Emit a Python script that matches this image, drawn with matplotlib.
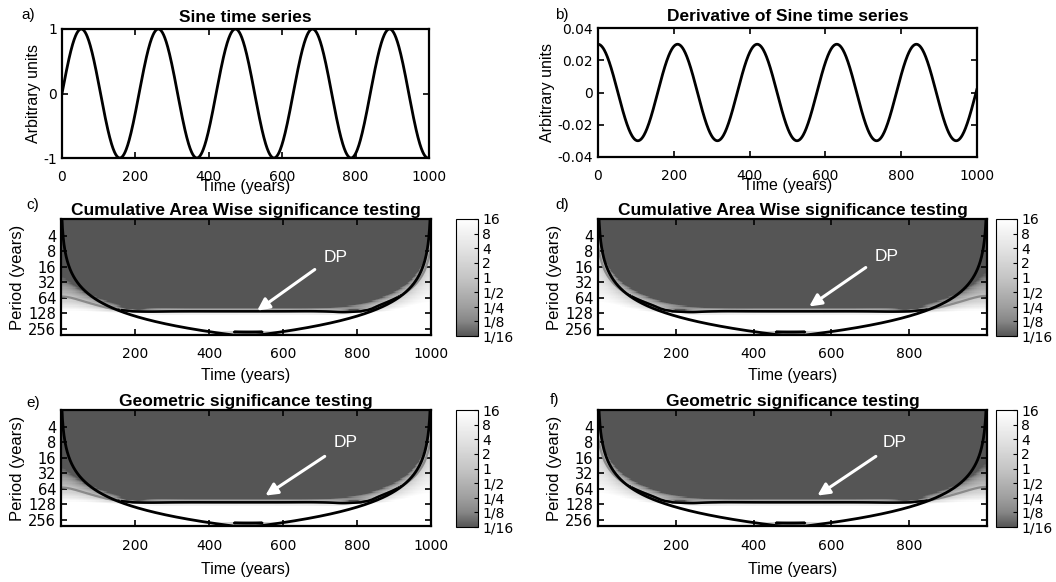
import numpy as np
import matplotlib
matplotlib.use("Agg")
import matplotlib.pyplot as plt
from matplotlib.colors import LinearSegmentedColormap, LogNorm
from matplotlib.ticker import NullLocator

plt.rcParams["font.family"] = ["Liberation Sans", "DejaVu Sans"]
plt.rcParams["axes.unicode_minus"] = False
plt.rcParams["xtick.direction"] = "in"
plt.rcParams["ytick.direction"] = "in"
plt.rcParams["xtick.top"] = True
plt.rcParams["ytick.right"] = True
plt.rcParams["axes.linewidth"] = 1.6
plt.rcParams["xtick.major.width"] = 1.2
plt.rcParams["ytick.major.width"] = 1.2
plt.rcParams["xtick.major.size"] = 4
plt.rcParams["ytick.major.size"] = 4

# ---- time series ----
years = np.arange(0, 1001)                 # annual samples
sine_period = 210.0                        # years per cycle
sine_amplitude = 1.0
sine_series = sine_amplitude * np.sin(2 * np.pi * years / sine_period)
derivative_series = np.diff(sine_series)   # change per year
derivative_years = years[:-1] + 0.5

# ---- axes ticks and labels ----
time_ticks = [0, 200, 400, 600, 800, 1000]
sine_ticks = [-1, 0, 1]
deriv_ticks = [-0.04, -0.02, 0, 0.02, 0.04]
deriv_tick_labels = ["-0.04", "-0.02", "0", "0.02", "0.04"]
period_ticks = [4, 8, 16, 32, 64, 128, 256]
ratio_ticks = [1/16, 1/8, 1/4, 1/2, 1, 2, 4, 8, 16]
ratio_labels = ["1/16", "1/8", "1/4", "1/2", "1", "2", "4", "8", "16"]
signif_level = 0.25    # normalised power at the significance threshold

# ---- Morlet continuous wavelet transform (zero padded, Torrence & Compo) ----
def morlet_cwt(x, dt=1.0, s0=2.0, dj=1/12, J=90, k0=6.0):
    n1 = len(x)
    xx = x - np.mean(x)
    base2 = int(np.log2(n1) + 0.4999)
    xx = np.concatenate([xx, np.zeros(2 ** (base2 + 1) - n1)])
    n = len(xx)
    k = np.fft.fftfreq(n, d=dt) * 2 * np.pi
    f = np.fft.fft(xx)
    scale = s0 * 2.0 ** (np.arange(J + 1) * dj)
    wave = np.empty((J + 1, n), dtype=complex)
    for i, s in enumerate(scale):
        daughter = (np.sqrt(2 * np.pi * s / dt) * np.pi ** -0.25
                    * np.exp(-(s * k - k0) ** 2 / 2) * (k > 0))
        wave[i] = np.fft.ifft(f * daughter)
    wave = wave[:, :n1]
    fourier_factor = 4 * np.pi / (k0 + np.sqrt(2 + k0 ** 2))
    period = fourier_factor * scale
    dist = np.minimum(np.arange(n1), np.arange(n1)[::-1]).astype(float)
    dist[dist == 0] = 1e-5
    coi = fourier_factor / np.sqrt(2) * dt * dist
    power = np.abs(wave) ** 2 / np.var(x)
    return period, power, coi

# grey ramp, brightening quickly above the darkest level
cmap = LinearSegmentedColormap.from_list(
    "greys",
    [(0.0, "#555555"), (0.125, "#868686"), (0.25, "#9f9f9f"),
     (0.5, "#c5c5c5"), (0.75, "#e3e3e3"), (1.0, "#ffffff")])

W, H = 1056, 582
fig = plt.figure(figsize=(W / 100, H / 100), dpi=100)

def rect(x0, y0, x1, y1):
    return [x0 / W, 1 - y1 / H, (x1 - x0) / W, (y1 - y0) / H]

TITLE = dict(fontsize=12.5, fontweight="bold", pad=3)
LABEL = 11.5
TICKFONT = dict(labelsize=10, labelfontfamily="DejaVu Sans")

# ---- a) sine ----
ax_a = fig.add_axes(rect(62, 29, 429, 158))
ax_a.plot(years, sine_series, color="black", lw=2)
ax_a.set_xlim(0, 1000)
ax_a.set_ylim(-1, 1)
ax_a.set_xticks(time_ticks)
ax_a.set_yticks(sine_ticks)
ax_a.tick_params(**TICKFONT)
ax_a.tick_params(axis="x", pad=9)
ax_a.set_title("Sine time series", fontsize=12.5, fontweight="bold", pad=5)
ax_a.set_ylabel("Arbitrary units", fontsize=LABEL, labelpad=2)
ax_a.set_xlabel("Time (years)", fontsize=LABEL, labelpad=-4)

# ---- b) derivative ----
ax_b = fig.add_axes(rect(598, 28, 977, 157))
ax_b.plot(derivative_years, derivative_series, color="black", lw=2)
ax_b.set_xlim(0, 1000)
ax_b.set_ylim(-0.04, 0.04)
ax_b.set_xticks(time_ticks)
ax_b.set_yticks(deriv_ticks)
ax_b.set_yticklabels(deriv_tick_labels)
ax_b.tick_params(**TICKFONT)
ax_b.tick_params(axis="x", pad=9)
ax_b.set_title("Derivative of Sine time series", fontsize=12.5, fontweight="bold", pad=5)
ax_b.set_ylabel("Arbitrary units", fontsize=LABEL, labelpad=2)
ax_b.set_xlabel("Time (years)", fontsize=LABEL, labelpad=-4)

# ---- wavelet panels ----
def wavelet_panel(box, cbox, t, series, title, xticks, xlim, dp_text, dp_start, dp_tip,
                  xlabelpad=5):
    period, power, coi = morlet_cwt(series)
    ratio = power / signif_level
    ax = fig.add_axes(rect(*box))
    mesh = ax.pcolormesh(t, period, np.clip(ratio, 1/16, 16), cmap=cmap,
                         norm=LogNorm(vmin=1/16, vmax=16), shading="nearest")
    # pointwise significance contour (grey) and the part inside the cone (black)
    ax.contour(t, period, ratio, levels=[1.0], colors="#8a8a8a", linewidths=1.6)
    inside = np.where(period[:, None] <= coi[None, :], ratio, np.nan)
    ax.contour(t, period, inside, levels=[1.0], colors="black", linewidths=1.8)
    ax.plot(t, coi, color="black", lw=2)
    ax.set_yscale("log", base=2)
    ax.set_ylim(340, 1.9)
    ax.set_xlim(*xlim)
    ax.set_yticks(period_ticks)
    ax.set_yticklabels([str(p) for p in period_ticks])
    ax.yaxis.set_minor_locator(NullLocator())
    ax.set_xticks(xticks)
    ax.tick_params(**TICKFONT)
    ax.tick_params(axis="y", labelsize=10.5)
    ax.tick_params(axis="x", pad=9)
    ax.set_title(title, **TITLE)
    ax.set_ylabel("Period (years)", fontsize=12, labelpad=2)
    ax.set_xlabel("Time (years)", fontsize=LABEL, labelpad=xlabelpad)
    ax.annotate("", xy=dp_tip, xytext=dp_start,
                arrowprops=dict(arrowstyle="-|>", color="white", lw=2.2, mutation_scale=18))
    ax.text(*dp_text, "DP", color="white", fontsize=12.5, ha="center", va="center")
    cax = fig.add_axes(rect(*cbox))
    cb = fig.colorbar(mesh, cax=cax)
    cb.set_ticks(ratio_ticks)
    cb.set_ticklabels(ratio_labels)
    cb.ax.yaxis.set_minor_locator(NullLocator())
    cb.ax.tick_params(direction="in", length=3, width=0.8, labelsize=10,
                      labelfontfamily="DejaVu Sans", pad=3)
    cb.outline.set_linewidth(0.8)
    return ax

wave_ticks_full = [200, 400, 600, 800, 1000]
wave_ticks_short = [200, 400, 600, 800]

wavelet_panel((61, 219, 431, 335), (456, 219, 478, 336), years, sine_series,
              "Cumulative Area Wise significance testing", wave_ticks_full, (0, 1000),
              (741, 10.8), (692, 16.9), (524, 123))
wavelet_panel((598, 219, 987, 335), (996, 219, 1017, 336), derivative_years, derivative_series,
              "Cumulative Area Wise significance testing", wave_ticks_short,
              (derivative_years[0], derivative_years[-1]),
              (743, 10.3), (694, 15.5), (537, 102))
wavelet_panel((61, 410, 431, 526), (456, 410, 478, 527), years, sine_series,
              "Geometric significance testing", wave_ticks_full, (0, 1000),
              (768, 8.2), (719, 14.1), (546, 93.5), xlabelpad=7)
wavelet_panel((598, 410, 987, 526), (996, 410, 1017, 527), derivative_years, derivative_series,
              "Geometric significance testing", wave_ticks_short,
              (derivative_years[0], derivative_years[-1]),
              (763, 8.2), (720, 14.1), (558, 93.5), xlabelpad=7)

# panel letters
for letter, (px, py) in zip("abcdef", [(28, 15), (562, 15), (33, 205), (562, 205), (33, 403), (555, 400)]):
    fig.text(px / W, 1 - py / H, letter + ")", fontsize=11, ha="center", va="center")

fig.savefig("out.png", dpi=100)
